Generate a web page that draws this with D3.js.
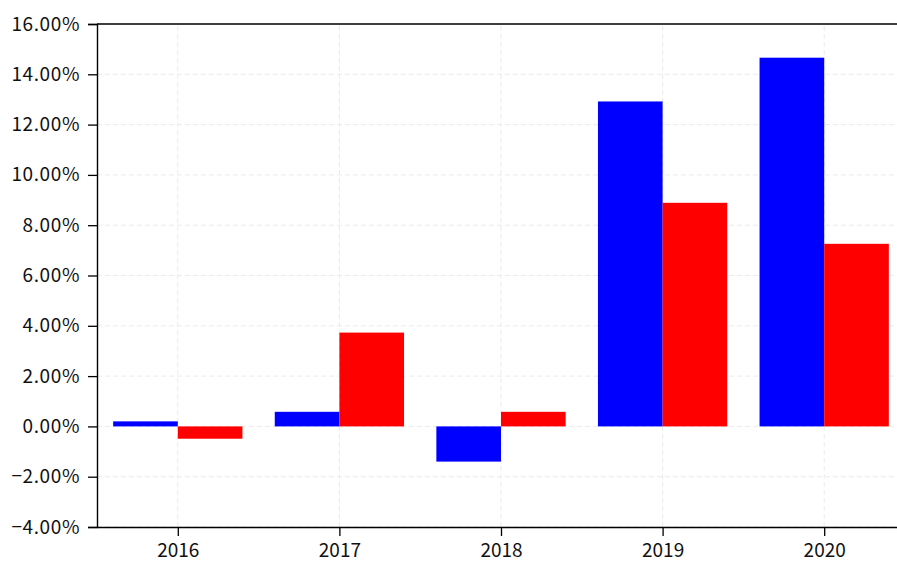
<!DOCTYPE html>
<html>
<head>
<meta charset="utf-8">
<script src="https://cdn.jsdelivr.net/npm/d3@7"></script>
<style>
  body { margin: 0; background: #fff; }
  svg text { font-family: "Noto Sans CJK SC", "DejaVu Sans", sans-serif; }
</style>
</head>
<body>
<div id="chart"></div>
<script>
const years = ["2016", "2017", "2018", "2019", "2020"];
const blueVals = [0.20, 0.58, -1.40, 12.92, 14.66];
const redVals = [-0.49, 3.73, 0.58, 8.89, 7.26];
const yTicks = [-4, -2, 0, 2, 4, 6, 8, 10, 12, 14, 16];

const width = 897;
const height = 563;
const margin = { top: 24, bottom: 36, left: 97, right: -8 };

const svg = d3.select('#chart')
  .append('svg')
  .attr('width', width)
  .attr('height', height);

// category positions, matplotlib style: xlim [-0.5, 4.5]
const x = d3.scaleLinear()
  .domain([-0.5, years.length - 0.5])
  .range([margin.left, width - margin.right]);

const y = d3.scaleLinear()
  .domain([-4, 16])
  .range([height - margin.bottom, margin.top]);

const barW = 0.4;

// grid
const grid = svg.append("g")
  .attr("stroke", "#ebebeb")
  .attr("stroke-width", 1)
  .attr("stroke-dasharray", "5,3");

grid.selectAll("line.h")
  .data(yTicks)
  .join("line")
    .attr("class", "h")
    .attr("x1", margin.left)
    .attr("x2", width - margin.right)
    .attr("y1", d => y(d))
    .attr("y2", d => y(d));

grid.selectAll("line.v")
  .data(years)
  .join("line")
    .attr("class", "v")
    .attr("x1", (d, i) => x(i))
    .attr("x2", (d, i) => x(i))
    .attr("y1", y(-4))
    .attr("y2", y(16));

// bars
svg.append("g")
  .attr("fill", "#0000ff")
  .selectAll("rect")
  .data(blueVals)
  .join("rect")
    .attr("x", (d, i) => x(i - barW))
    .attr("y", d => y(Math.max(0, d)))
    .attr("width", x(barW) - x(0))
    .attr("height", d => Math.abs(y(d) - y(0)));

svg.append("g")
  .attr("fill", "#ff0000")
  .selectAll("rect")
  .data(redVals)
  .join("rect")
    .attr("x", (d, i) => x(i))
    .attr("y", d => y(Math.max(0, d)))
    .attr("width", x(barW) - x(0))
    .attr("height", d => Math.abs(y(d) - y(0)));

function fmt(v) {
  const s = Math.abs(v).toFixed(2) + "%";
  return v < 0 ? "\u2212" + s : s;
}

// axes
svg.append("g")
  .attr("transform", `translate(${margin.left},0)`)
  .call(d3.axisLeft(y).tickValues(yTicks).tickFormat(fmt).tickSize(9).tickPadding(8))
  .call(g => g.select(".domain").attr("stroke-width", 1.4))
  .call(g => g.selectAll(".tick line").attr("stroke-width", 1.3))
  .call(g => g.selectAll("text").attr("font-size", "19px").attr("letter-spacing", "0.6px").attr("fill", "#111"));

svg.append("g")
  .attr("transform", `translate(0,${height - margin.bottom})`)
  .call(d3.axisBottom(x).tickValues(d3.range(years.length)).tickFormat(i => years[i]).tickSize(9).tickPadding(8).tickSizeOuter(0))
  .call(g => g.select(".domain").attr("stroke-width", 1.4))
  .call(g => g.selectAll(".tick line").attr("stroke-width", 1.3))
  .call(g => g.selectAll("text").attr("font-size", "19px").attr("fill", "#111"));

// top spine
svg.append("line")
  .attr("x1", margin.left)
  .attr("x2", width - margin.right)
  .attr("y1", y(16))
  .attr("y2", y(16))
  .attr("stroke", "#000")
  .attr("stroke-width", 1.4);
</script>
</body>
</html>
